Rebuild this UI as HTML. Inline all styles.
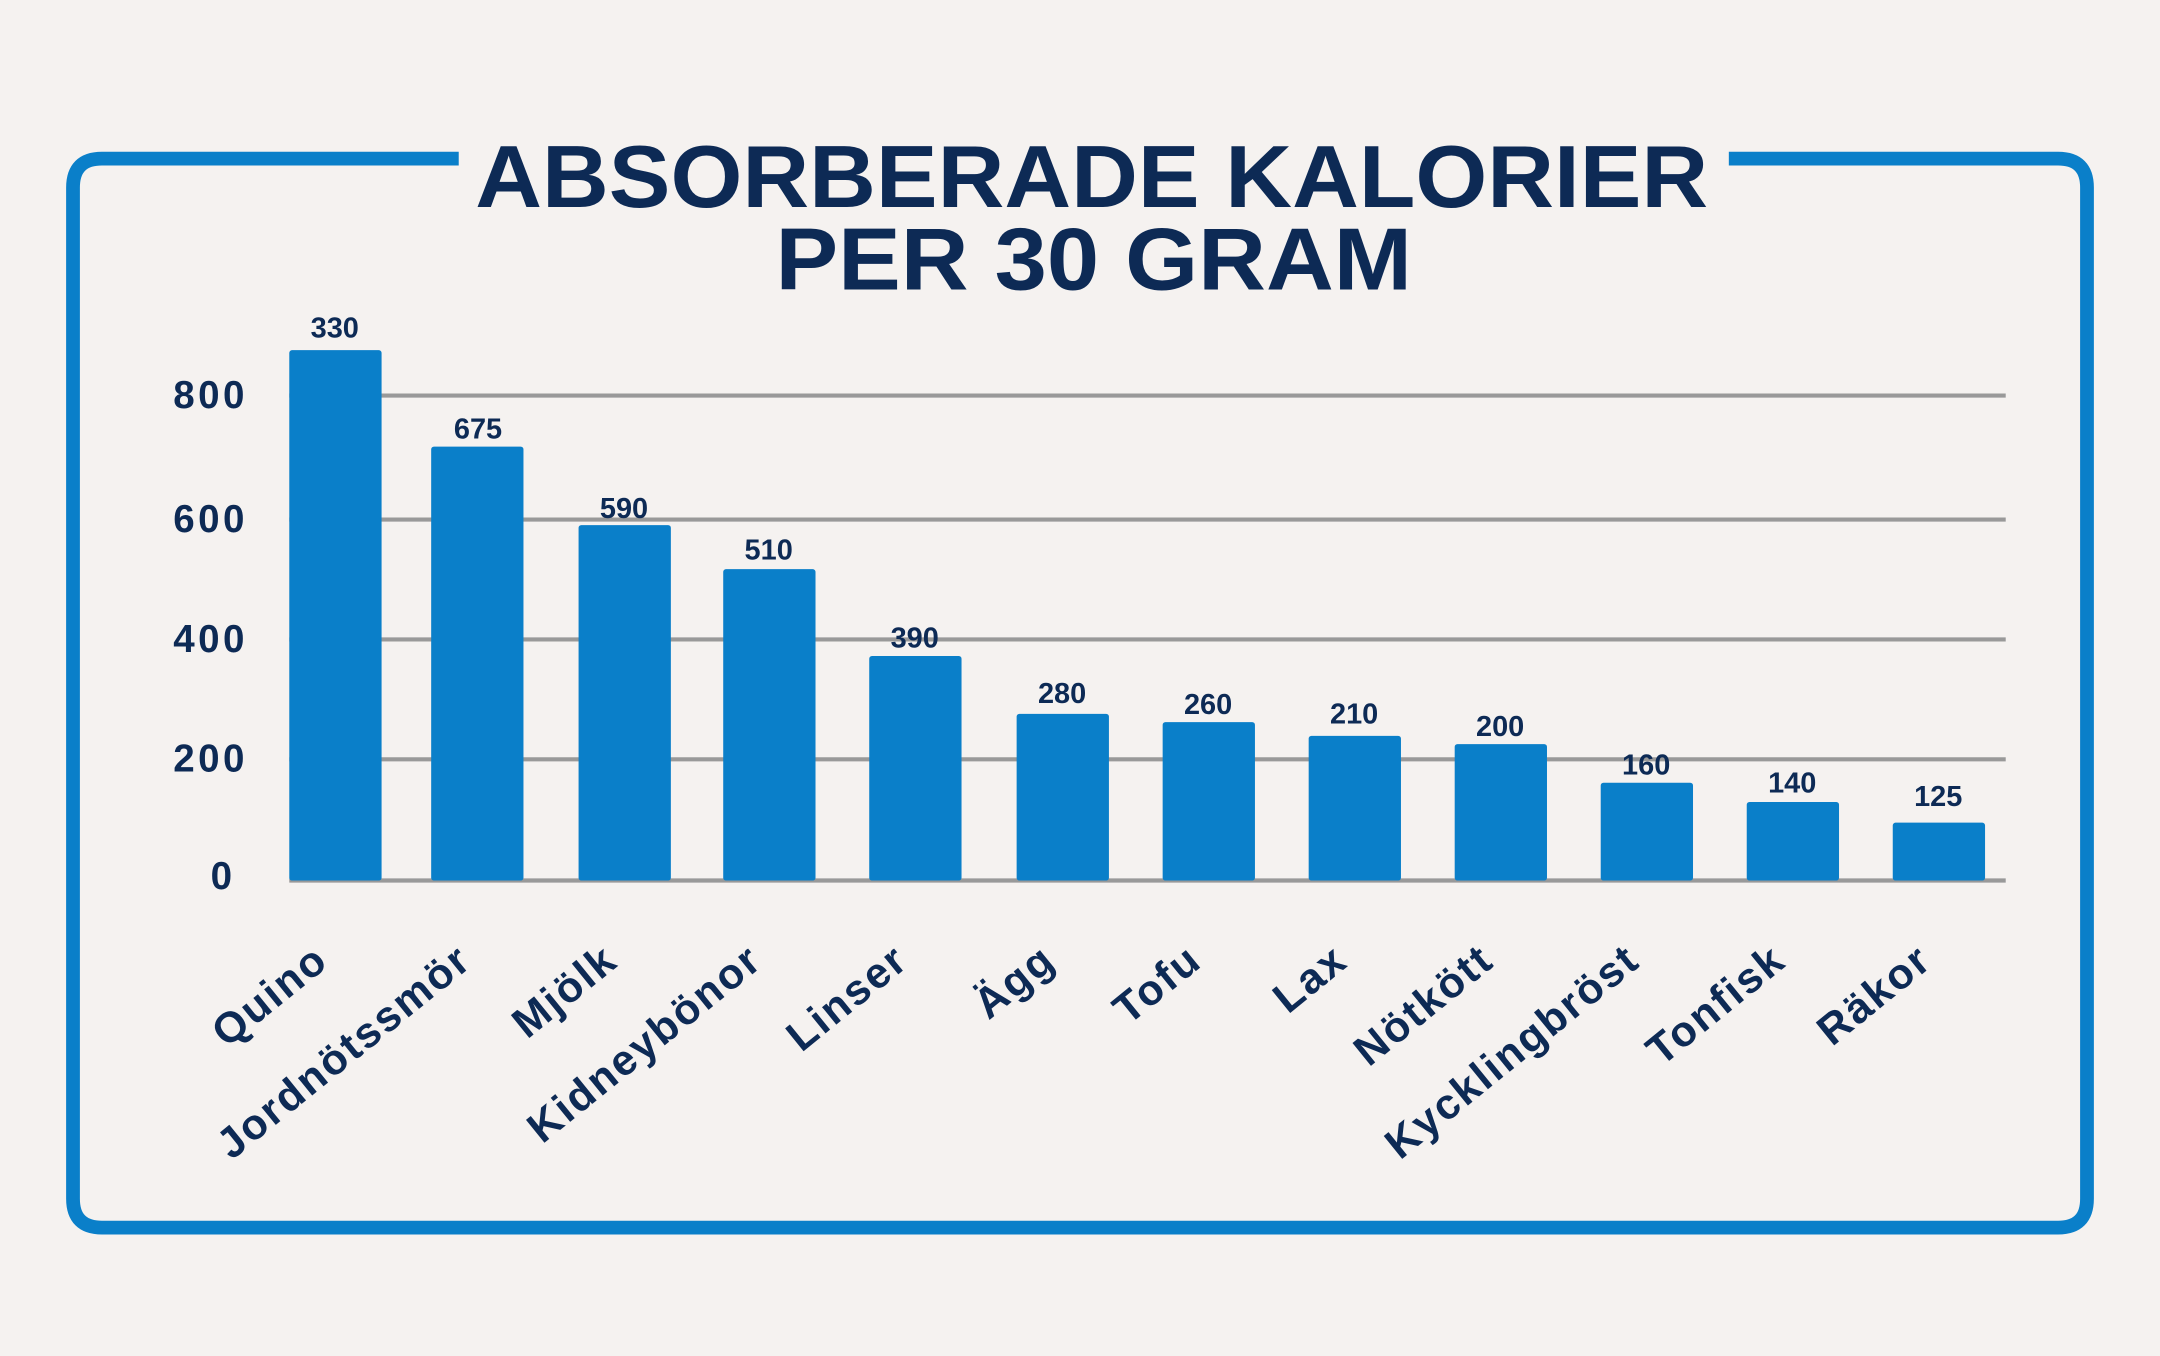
<!DOCTYPE html>
<html><head><meta charset="utf-8"><style>
html,body{margin:0;padding:0;background:#f5f2f0;}
svg{display:block;}
text{font-family:"Liberation Sans",sans-serif;font-weight:bold;fill:#0d2a55;}
</style></head><body>
<svg width="2160" height="1356" viewBox="0 0 1568 984" xmlns="http://www.w3.org/2000/svg">
<rect x="0" y="0" width="1568" height="984" fill="#f5f2f0"/>
<path d="M333 115 H74 Q53 115 53 136 V870 Q53 891 74 891 H1494 Q1515 891 1515 870 V136 Q1515 115 1494 115 H1255" fill="none" stroke="#0a7fc9" stroke-width="10"/>
<text x="345" y="150" font-size="64" textLength="895" lengthAdjust="spacingAndGlyphs">ABSORBERADE KALORIER</text>
<text x="563" y="210" font-size="64" textLength="462" lengthAdjust="spacingAndGlyphs">PER 30 GRAM</text>
<g stroke="#999" stroke-width="3">
<line x1="210" y1="287" x2="1456" y2="287"/>
<line x1="210" y1="377" x2="1456" y2="377"/>
<line x1="210" y1="464" x2="1456" y2="464"/>
<line x1="210" y1="551" x2="1456" y2="551"/>
<line x1="210" y1="639" x2="1456" y2="639"/>
</g>
<g font-size="28" text-anchor="end" letter-spacing="2.5">
<text x="180" y="296">800</text>
<text x="180" y="386">600</text>
<text x="180" y="473">400</text>
<text x="180" y="560">200</text>
<text x="171" y="645">0</text>
</g>
<g fill="#0a7fc9">
<rect x="210" y="254" width="67" height="385" rx="2"/>
<rect x="313" y="324" width="67" height="315" rx="2"/>
<rect x="420" y="381" width="67" height="258" rx="2"/>
<rect x="525" y="413" width="67" height="226" rx="2"/>
<rect x="631" y="476" width="67" height="163" rx="2"/>
<rect x="738" y="518" width="67" height="121" rx="2"/>
<rect x="844" y="524" width="67" height="115" rx="2"/>
<rect x="950" y="534" width="67" height="105" rx="2"/>
<rect x="1056" y="540" width="67" height="99" rx="2"/>
<rect x="1162" y="568" width="67" height="71" rx="2"/>
<rect x="1268" y="582" width="67" height="57" rx="2"/>
<rect x="1374" y="597" width="67" height="42" rx="2"/>
</g>
<g font-size="21" text-anchor="middle">
<text x="243" y="245">330</text>
<text x="347" y="318">675</text>
<text x="453" y="376">590</text>
<text x="558" y="406">510</text>
<text x="664" y="470">390</text>
<text x="771" y="510">280</text>
<text x="877" y="518">260</text>
<text x="983" y="525">210</text>
<text x="1089" y="534">200</text>
<text x="1195" y="562">160</text>
<text x="1301" y="575">140</text>
<text x="1407" y="585">125</text>
</g>
<g font-size="31" text-anchor="end" letter-spacing="1.5">
<text transform="translate(240,700) rotate(-39)">Quino</text>
<text transform="translate(344,700) rotate(-39)">Jordnötssmör</text>
<text transform="translate(450,700) rotate(-39)">Mjölk</text>
<text transform="translate(555,700) rotate(-39)">Kidneybönor</text>
<text transform="translate(661,700) rotate(-39)">Linser</text>
<text transform="translate(768,700) rotate(-39)">Ägg</text>
<text transform="translate(874,700) rotate(-39)">Tofu</text>
<text transform="translate(980,700) rotate(-39)">Lax</text>
<text transform="translate(1086,700) rotate(-39)">Nötkött</text>
<text transform="translate(1192,700) rotate(-39)">Kycklingbröst</text>
<text transform="translate(1298,700) rotate(-39)">Tonfisk</text>
<text transform="translate(1404,700) rotate(-39)">Räkor</text>
</g>
</svg>
</body></html>
